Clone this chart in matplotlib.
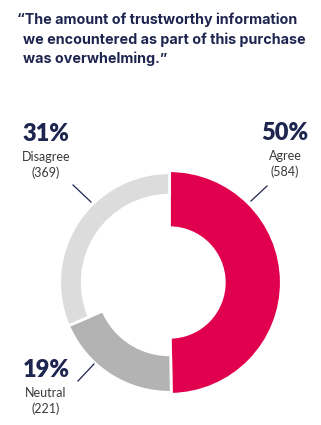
import matplotlib.pyplot as plt

categories = ["Agree", "Neutral", "Disagree"]
counts = [584, 221, 369]
percents = ["50%", "19%", "31%"]
colors = ["#E0004D", "#B3B3B3", "#DCDCDC"]
title_lines = ["\u201cThe amount of trustworthy information",
               "we encountered as part of this purchase",
               "was overwhelming.\u201d"]

W, H = 321, 425
NAVY = "#1E2650"
fig = plt.figure(figsize=(W / 100, H / 100), dpi=100)
ax = fig.add_axes([0, 0, 1, 1])

def Y(y):
    return H - y

cx, cy = 169.5, 282.5
wedges, _ = ax.pie(counts, colors=colors, startangle=90, counterclock=False,
                   center=(cx, Y(cy)), radius=110,
                   wedgeprops=dict(width=30, linewidth=2, edgecolor="white"),
                   frame=True)
# ring geometry per segment (outer radius, thickness) in pixels
ring = {"Agree": (111.8, 57), "Neutral": (109.8, 37.5), "Disagree": (109.8, 22.5)}
for w, c in zip(wedges, categories):
    r, t = ring[c]
    w.set_radius(r)
    w.set_width(t)

ax.set_xlim(0, W)
ax.set_ylim(0, H)
ax.set_aspect("auto")
ax.axis("off")

fam = ["Inter", "DejaVu Sans"]
fam2 = ["Lato", "DejaVu Sans"]
# title
tx = [17, 23, 23]
ty = [20, 40, 59]
for s, x, y in zip(title_lines, tx, ty):
    ax.text(x, Y(y), s, fontsize=10.3, fontweight="bold", color=NAVY,
            family=fam, ha="left", va="center")

# labels
lab = {
    "Agree": (285, 133),
    "Disagree": (46, 134),
    "Neutral": (46, 370),
}
for c, n, p in zip(categories, counts, percents):
    x, y = lab[c]
    ax.text(x, Y(y), p, fontsize=17, fontweight="heavy", color=NAVY,
            family=fam2, ha="center", va="center")
    ax.text(x, Y(y + 23), c, fontsize=9, color="#3a3a3a",
            family=fam2, ha="center", va="center")
    ax.text(x, Y(y + 39), f"({n})", fontsize=9, color="#3a3a3a",
            family=fam2, ha="center", va="center")

# leader lines
lines = [((267, 186), (251, 201)), ((73, 185), (91, 202)), ((78, 381), (94, 364))]
for (x0, y0), (x1, y1) in lines:
    ax.plot([x0, x1], [Y(y0), Y(y1)], color=NAVY, lw=0.9)

fig.savefig("out.png", dpi=100)
